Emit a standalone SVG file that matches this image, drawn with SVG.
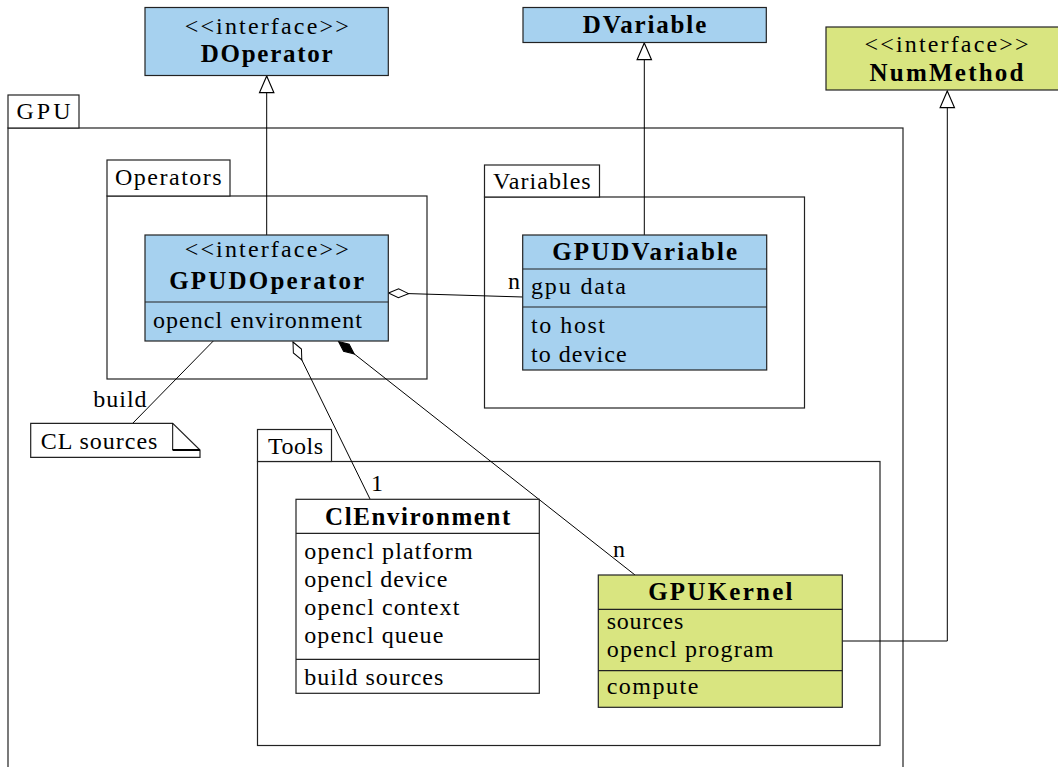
<svg xmlns="http://www.w3.org/2000/svg" width="1058" height="767" viewBox="0 0 1058 767">
<style>
text{font-family:'Liberation Serif','DejaVu Serif',serif;font-size:24px;fill:#000}
.b{font-weight:bold;font-size:25px}
.c{text-anchor:middle}
.blue{fill:#a6d1ef;stroke:#222;stroke-width:1.2}
.green{fill:#d9e580;stroke:#222;stroke-width:1.2}
.white{fill:#fff;stroke:#222;stroke-width:1.2}
.pkg{fill:none;stroke:#222;stroke-width:1.2}
.div{stroke:#222;stroke-width:1.2}
.ln{fill:none;stroke:#000;stroke-width:1}
</style>
<defs>
<marker id="tri" markerUnits="userSpaceOnUse" markerWidth="20" markerHeight="20" refX="0" refY="0" viewBox="-1 -8 18 16" orient="auto" overflow="visible">
<polygon points="0,0 15,-6.5 15,6.5" fill="#fff" stroke="#000" stroke-width="1"/>
</marker>
<marker id="odia" markerUnits="userSpaceOnUse" markerWidth="24" markerHeight="12" refX="0" refY="0" viewBox="-1 -6 23 12" orient="auto" overflow="visible">
<polygon points="0,0 10,-4.5 20,0 10,4.5" fill="#fff" stroke="#000" stroke-width="1"/>
</marker>
<marker id="fdia" markerUnits="userSpaceOnUse" markerWidth="24" markerHeight="12" refX="0" refY="0" viewBox="-1 -6 23 12" orient="auto" overflow="visible">
<polygon points="0,0 10,-4.5 20,0 10,4.5" fill="#000" stroke="#000" stroke-width="1"/>
</marker>
</defs>

<g id="pkg-gpu">
<rect class="pkg" x="8" y="128" width="895" height="660"/>
<rect class="white" x="8" y="95" width="71" height="33"/>
<text x="16.5" y="119" textLength="54" lengthAdjust="spacing">GPU</text>
</g>

<g id="pkg-operators">
<rect class="pkg" x="107" y="196" width="320" height="183"/>
<rect class="white" x="107" y="160" width="123" height="36"/>
<text x="115" y="185" textLength="106.7" lengthAdjust="spacing">Operators</text>
</g>

<g id="pkg-variables">
<rect class="pkg" x="484.5" y="197" width="320" height="211"/>
<rect class="white" x="484.5" y="165" width="115" height="32"/>
<text x="493" y="188.5" textLength="97.7" lengthAdjust="spacing">Variables</text>
</g>

<g id="pkg-tools">
<rect class="pkg" x="257.5" y="461.5" width="622.5" height="284"/>
<rect class="white" x="257.5" y="429.5" width="74" height="32"/>
<text x="268" y="453.5" textLength="55" lengthAdjust="spacing">Tools</text>
</g>

<g id="connectors">
<path class="ln" d="M266.7,76 L266.7,235" marker-start="url(#tri)"/>
<path class="ln" d="M644.3,43 L644.3,235" marker-start="url(#tri)"/>
<path class="ln" d="M947.3,91 L947.3,641 L842.3,641" marker-start="url(#tri)"/>
<path class="ln" d="M388.5,293 L523,297" marker-start="url(#odia)"/>
<path class="ln" d="M293,342 L370,499" marker-start="url(#odia)"/>
<path class="ln" d="M338.5,341.5 L635,575" marker-start="url(#fdia)"/>
<path class="ln" d="M213.3,341 L132.7,423.3"/>
<text x="508" y="288.5">n</text>
<text x="371" y="491">1</text>
<text x="613" y="556.5">n</text>
<text x="93.3" y="406.7" textLength="53.3" lengthAdjust="spacing">build</text>
</g>

<g id="DOperator">
<rect class="blue" x="145" y="7.5" width="243.3" height="68"/>
<text class="c" x="266.7" y="33.5" textLength="164" lengthAdjust="spacing">&lt;&lt;interface&gt;&gt;</text>
<text class="c b" x="266.7" y="62" textLength="132" lengthAdjust="spacing">DOperator</text>
</g>

<g id="DVariable">
<rect class="blue" x="523" y="7.5" width="243.3" height="35"/>
<text class="c b" x="644.5" y="33" textLength="123.5" lengthAdjust="spacing">DVariable</text>
</g>

<g id="NumMethod">
<rect class="green" x="826" y="27" width="243.3" height="63"/>
<text class="c" x="946.5" y="51.5" textLength="164" lengthAdjust="spacing">&lt;&lt;interface&gt;&gt;</text>
<text class="c b" x="946.5" y="81" textLength="154" lengthAdjust="spacing">NumMethod</text>
</g>

<g id="GPUDOperator">
<rect class="blue" x="145" y="235" width="243.3" height="106"/>
<line class="div" x1="145" y1="302" x2="388.3" y2="302"/>
<text class="c" x="266.7" y="257" textLength="164" lengthAdjust="spacing">&lt;&lt;interface&gt;&gt;</text>
<text class="c b" x="266.7" y="288.5" textLength="195" lengthAdjust="spacing">GPUDOperator</text>
<text x="153" y="328" textLength="209" lengthAdjust="spacing">opencl environment</text>
</g>

<g id="GPUDVariable">
<rect class="blue" x="522.7" y="235" width="244" height="135"/>
<line class="div" x1="522.7" y1="269" x2="766.7" y2="269"/>
<line class="div" x1="522.7" y1="307" x2="766.7" y2="307"/>
<text class="c b" x="644.7" y="260" textLength="185" lengthAdjust="spacing">GPUDVariable</text>
<text x="531" y="293.5" textLength="95" lengthAdjust="spacing">gpu data</text>
<text x="531" y="333" textLength="74" lengthAdjust="spacing">to host</text>
<text x="531" y="362" textLength="95.7" lengthAdjust="spacing">to device</text>
</g>

<g id="CLsources">
<path class="white" d="M30.7,423.3 L172.7,423.3 L200,450 L200,457.3 L30.7,457.3 Z"/>
<path fill="none" stroke="#000" stroke-width="1" d="M172.7,423.3 L172.7,450 L200,450"/>
<line x1="172.7" y1="450" x2="200" y2="450" stroke="#000" stroke-width="2"/>
<text x="40.7" y="448.5" textLength="116.7" lengthAdjust="spacing">CL sources</text>
</g>

<g id="ClEnvironment">
<rect class="white" x="296" y="499.3" width="243.3" height="194"/>
<line class="div" x1="296" y1="533.3" x2="539.3" y2="533.3"/>
<line class="div" x1="296" y1="659.3" x2="539.3" y2="659.3"/>
<text class="c b" x="417.7" y="525" textLength="185.3" lengthAdjust="spacing">ClEnvironment</text>
<text x="304.3" y="558.5" textLength="168.3" lengthAdjust="spacing">opencl platform</text>
<text x="304.3" y="587" textLength="143" lengthAdjust="spacing">opencl device</text>
<text x="304.3" y="615" textLength="155" lengthAdjust="spacing">opencl context</text>
<text x="304.3" y="643" textLength="139" lengthAdjust="spacing">opencl queue</text>
<text x="304.3" y="685" textLength="139" lengthAdjust="spacing">build sources</text>
</g>

<g id="GPUKernel">
<rect class="green" x="598.3" y="575" width="244" height="132.3"/>
<line class="div" x1="598.3" y1="609.3" x2="842.3" y2="609.3"/>
<line class="div" x1="598.3" y1="670.7" x2="842.3" y2="670.7"/>
<text class="c b" x="720.3" y="599.5" textLength="144.3" lengthAdjust="spacing">GPUKernel</text>
<text x="606.7" y="628.5" textLength="76.7" lengthAdjust="spacing">sources</text>
<text x="606.7" y="657" textLength="166.7" lengthAdjust="spacing">opencl program</text>
<text x="606.7" y="693.5" textLength="91.7" lengthAdjust="spacing">compute</text>
</g>
</svg>
